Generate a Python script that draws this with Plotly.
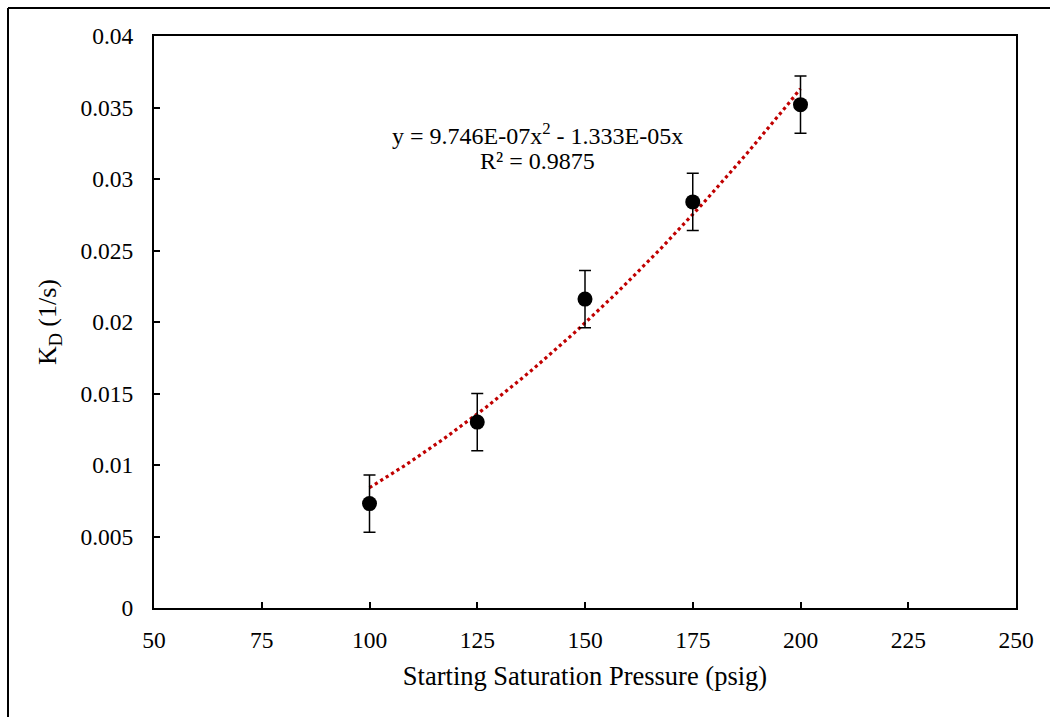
import numpy as np
import plotly.graph_objects as go

# Data
pressure = [100, 125, 150, 175, 200]
kd = [0.0073, 0.0130, 0.0216, 0.0284, 0.0352]
kd_err = [0.002, 0.002, 0.002, 0.002, 0.002]

# Trendline coefficients as printed on the chart (y = a x^2 + b x)
coef_a = 9.746e-07
coef_b = -1.333e-05
trend_x = np.linspace(100, 200, 101)
trend_y = coef_a * trend_x**2 + coef_b * trend_x

x_ticks = [50, 75, 100, 125, 150, 175, 200, 225, 250]
y_ticks = [0, 0.005, 0.01, 0.015, 0.02, 0.025, 0.03, 0.035, 0.04]
y_ticktext = ["0", "0.005", "0.01", "0.015", "0.02", "0.025", "0.03", "0.035", "0.04"]

FONT = "Liberation Serif, Times New Roman, serif"

fig = go.Figure()
fig.add_trace(go.Scatter(
    x=trend_x, y=trend_y, mode="lines",
    line=dict(color="#C00000", width=3.2, dash="dot"),
    hoverinfo="skip", showlegend=False,
))
fig.add_trace(go.Scatter(
    x=pressure, y=kd, mode="markers",
    marker=dict(color="black", size=15),
    error_y=dict(type="data", array=kd_err, visible=True, color="black",
                 thickness=1.5, width=6),
    showlegend=False,
))

L, R, T, B = 154, 1016, 36, 608
W, H = R - L, B - T
def px(xp):
    return (xp - L) / W
def py(yp):
    return 1 - (yp - T) / H

fig.add_annotation(
    x=px(537), y=py(134), xref="paper", yref="paper", showarrow=False,
    text="y = 9.746E-07x<sup>2</sup> - 1.333E-05x",
    xanchor="center", yanchor="middle",
    font=dict(family=FONT, size=24, color="black"),
)
fig.add_annotation(
    x=px(537), y=py(161), xref="paper", yref="paper", showarrow=False,
    text="R² = 0.9875",
    xanchor="center", yanchor="middle",
    font=dict(family=FONT, size=24, color="black"),
)

# Outer figure border (left and top edges visible)
fig.add_shape(type="line", xref="paper", yref="paper",
              x0=px(8), x1=px(1050), y0=py(8), y1=py(8),
              line=dict(color="black", width=2))
fig.add_shape(type="line", xref="paper", yref="paper",
              x0=px(8), x1=px(8), y0=py(8), y1=py(717),
              line=dict(color="black", width=2))

fig.update_layout(
    width=1050, height=717,
    margin=dict(l=L, r=1050 - R, t=T, b=717 - B),
    paper_bgcolor="white", plot_bgcolor="white",
    font=dict(family=FONT, size=23, color="black"),
    xaxis=dict(
        range=[50, 250], tickvals=x_ticks, ticks="inside", ticklen=6,
        tickwidth=1.5, tickcolor="black", showline=True, linecolor="black",
        linewidth=2, mirror=True, showgrid=False, zeroline=False,
        ticklabelstandoff=10,
        title=dict(text="Starting Saturation Pressure (psig)", standoff=14,
                   font=dict(family=FONT, size=26.5)),
        tickfont=dict(family=FONT, size=23.5),
    ),
    yaxis=dict(
        range=[0, 0.04], tickvals=y_ticks, ticktext=y_ticktext, ticks="inside",
        ticklen=6, tickwidth=1.5, tickcolor="black", showline=True,
        linecolor="black", linewidth=2, mirror=True, showgrid=False,
        zeroline=False, ticklabelstandoff=14,
        title=dict(text="K<sub>D</sub> (1/s)", standoff=16,
                   font=dict(family=FONT, size=26)),
        tickfont=dict(family=FONT, size=23.5),
    ),
)

fig.write_html("out.html")
